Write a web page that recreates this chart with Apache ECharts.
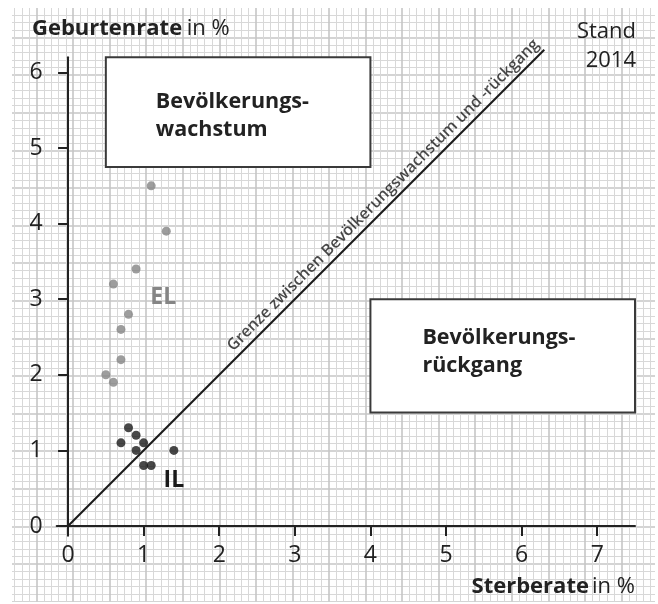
<!DOCTYPE html>
<html>
<head>
<meta charset="utf-8">
<script src="https://cdn.jsdelivr.net/npm/echarts@6/dist/echarts.min.js"></script>
<style>
html,body{margin:0;padding:0;background:#fff;}
#chart{width:658px;height:604px;}
</style>
</head>
<body>
<div id="chart"></div>
<script>
// ---- data ----
const deathEL = [1.1, 1.3, 0.9, 0.6, 0.8, 0.7, 0.7, 0.5, 0.6];
const birthEL = [4.5, 3.9, 3.4, 3.2, 2.8, 2.6, 2.2, 2.0, 1.9];
const deathIL = [0.8, 0.9, 0.7, 1.0, 0.9, 1.4, 1.0, 1.1];
const birthIL = [1.3, 1.2, 1.1, 1.1, 1.0, 1.0, 0.8, 0.8];
const boundary = [[0, 0], [6.3, 6.3]];
const xTickValues = [0, 1, 2, 3, 4, 5, 6, 7];
const yTickValues = [0, 1, 2, 3, 4, 5, 6];
const boundaryText = 'Grenze zwischen Bevölkerungswachstum und -rückgang';
const growthText = 'Bevölkerungs-\nwachstum';
const declineText = 'Bevölkerungs-\nrückgang';

const FONT = '"Open Sans", "Noto Sans", sans-serif';
const INK = '#222';

const elData = deathEL.map((d, i) => [d, birthEL[i]]);
const ilData = deathIL.map((d, i) => [d, birthIL[i]]);

const chart = echarts.init(document.getElementById('chart'), null, {renderer: 'canvas'});

const hidden = {show: false};
const paperAxis = (min, max) => ({
  type: 'value', min: min, max: max, interval: 0.5,
  axisLine: hidden, axisTick: hidden, axisLabel: hidden,
  splitLine: {show: true, lineStyle: {color: '#c6c6c6', width: 1.6}},
  minorTick: {show: false, splitNumber: 5},
  minorSplitLine: {show: true, lineStyle: {color: '#d8d8d8', width: 1}},
  silent: true
});

const option = {
  animation: false,
  backgroundColor: '#fff',
  textStyle: {fontFamily: FONT},
  title: [
    {
      text: '{b|Geburtenrate} {r|in %}',
      left: 32, top: 18, padding: 0,
      textStyle: {
        rich: {
          b: {fontFamily: FONT, fontSize: 22, fontWeight: 'bold', color: INK},
          r: {fontFamily: FONT, fontSize: 22, fontWeight: 'normal', color: INK}
        }
      }
    },
    {
      text: 'Stand\n2014',
      left: 636, top: 17, padding: 0, textAlign: 'right',
      textStyle: {fontFamily: FONT, fontSize: 22, fontWeight: 'normal', color: INK, lineHeight: 29}
    }
  ],
  grid: [
    {left: -7.6, right: -14.8, top: -3.2, bottom: 2.4, containLabel: false},
    {left: 56.7, right: 23, top: 57.3, bottom: 68.2, containLabel: false}
  ],
  xAxis: [
    Object.assign(paperAxis(-1, 8), {gridIndex: 0}),
    {
      gridIndex: 1, type: 'value', min: -0.15, max: 7.5, z: 5,
      axisLine: {show: true, onZero: true, lineStyle: {color: INK, width: 2}},
      axisTick: {show: true, customValues: xTickValues, length: 10, inside: false, lineStyle: {color: INK, width: 2}},
      axisLabel: {show: true, customValues: xTickValues, margin: 8, fontFamily: FONT, fontSize: 23, color: INK},
      splitLine: hidden,
      name: '{b|Sterberate} {r|in %}',
      nameLocation: 'end', nameGap: 0,
      nameTextStyle: {
        align: 'right', verticalAlign: 'top', padding: [50, 0, 0, 0],
        rich: {
          b: {fontFamily: FONT, fontSize: 22, fontWeight: 'bold', color: INK},
          r: {fontFamily: FONT, fontSize: 22, fontWeight: 'normal', color: INK}
        }
      }
    }
  ],
  yAxis: [
    Object.assign(paperAxis(-1, 7), {gridIndex: 0}),
    {
      gridIndex: 1, type: 'value', min: -0.13, max: 6.2, z: 5,
      axisLine: {show: true, onZero: true, lineStyle: {color: INK, width: 2}},
      axisTick: {show: true, customValues: yTickValues, length: 10, inside: false, lineStyle: {color: INK, width: 2}},
      axisLabel: {show: true, customValues: yTickValues, margin: 14, fontFamily: FONT, fontSize: 23, color: INK},
      splitLine: hidden
    }
  ],
  graphic: [
    {type: 'rect', z: 1, silent: true, shape: {x: 0, y: 0, width: 12, height: 604}, style: {fill: '#fff'}},
    {type: 'rect', z: 1, silent: true, shape: {x: 0, y: 0, width: 658, height: 8}, style: {fill: '#fff'}},
    {type: 'rect', z: 1, silent: true, shape: {x: 655, y: 0, width: 3, height: 604}, style: {fill: '#fff'}},
    {type: 'rect', z: 1, silent: true, shape: {x: 0, y: 602, width: 658, height: 2}, style: {fill: '#fff'}}
  ],
  series: [
    {
      name: 'Grenze', type: 'line', xAxisIndex: 1, yAxisIndex: 1,
      data: boundary, showSymbol: false, symbol: 'none', clip: false,
      lineStyle: {color: '#1a1a1a', width: 2},
      z: 3,
      markArea: {
        silent: true,
        itemStyle: {color: '#fff', borderColor: '#3a3a3a', borderWidth: 2},
        label: {
          show: true, position: 'insideLeft', distance: 51,
          fontFamily: FONT, fontSize: 21.5, fontWeight: 'bold', color: INK, lineHeight: 28
        },
        data: [
          [{coord: [0.5, 6.2], label: {formatter: growthText, offset: [0, 4]}}, {coord: [4.0, 4.75]}],
          [{coord: [4.0, 3.0], label: {formatter: declineText, offset: [0, -4], distance: 53}}, {coord: [7.5, 1.5]}]
        ]
      }
    },
    {
      name: 'Grenze-Beschriftung', type: 'scatter', xAxisIndex: 1, yAxisIndex: 1,
      data: [boundary[1]], symbol: 'circle', symbolSize: 1, clip: false, z: 3,
      itemStyle: {color: 'rgba(0,0,0,0)'},
      label: {
        show: true, position: 'inside', formatter: boundaryText,
        align: 'right', verticalAlign: 'bottom', rotate: 45,
        fontFamily: FONT, fontSize: 16, fontWeight: 600, color: '#1a1a1a', lineHeight: 22
      }
    },
    {
      name: 'EL', type: 'scatter', xAxisIndex: 1, yAxisIndex: 1,
      data: elData, symbol: 'circle', symbolSize: 9, z: 4,
      itemStyle: {color: '#858585'},
      markPoint: {
        silent: true, symbol: 'circle', symbolSize: 1,
        itemStyle: {color: 'rgba(0,0,0,0)'},
        label: {show: true, position: 'inside', formatter: 'EL', fontFamily: FONT, fontSize: 23, fontWeight: 'bold', color: '#858585'},
        data: [{coord: [1.26, 3.02]}]
      }
    },
    {
      name: 'IL', type: 'scatter', xAxisIndex: 1, yAxisIndex: 1,
      data: ilData, symbol: 'circle', symbolSize: 9, z: 4,
      itemStyle: {color: '#1a1a1a'},
      markPoint: {
        silent: true, symbol: 'circle', symbolSize: 1,
        itemStyle: {color: 'rgba(0,0,0,0)'},
        label: {show: true, position: 'inside', formatter: 'IL', fontFamily: FONT, fontSize: 23, fontWeight: 'bold', color: '#1a1a1a'},
        data: [{coord: [1.40, 0.60]}]
      }
    }
  ]
};
chart.setOption(option);
</script>
</body>
</html>
